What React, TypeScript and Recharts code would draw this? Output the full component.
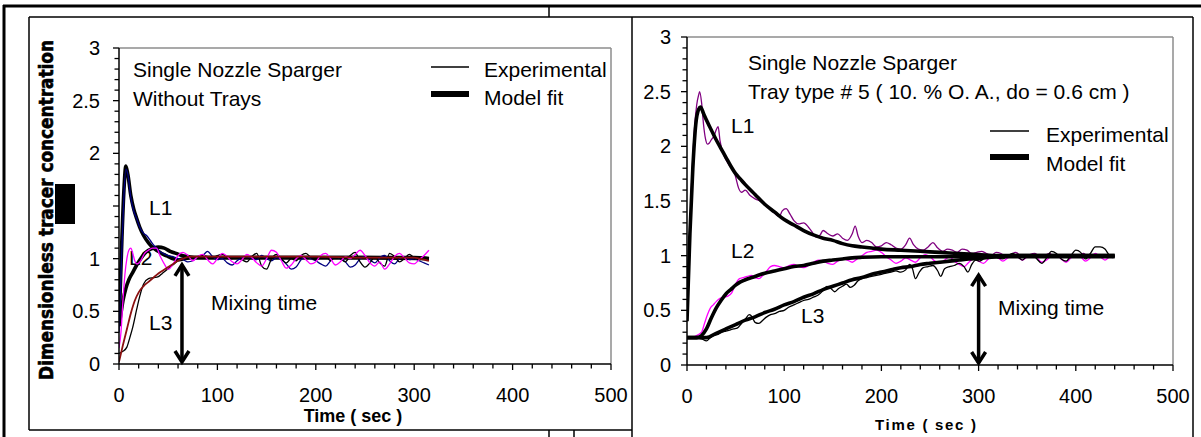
import React from 'react';
import { LineChart, Line, XAxis, YAxis, ReferenceLine } from 'recharts';

type P = [number, number];

// ---------- axis ticks ----------
const xTicks = [0, 20, 40, 60, 80, 100, 120, 140, 160, 180, 200, 220, 240, 260, 280, 300, 320, 340, 360, 380, 400, 420, 440, 460, 480, 500];
const xLabelled = [0, 100, 200, 300, 400, 500];
const yTicks = [0, 0.1, 0.2, 0.3, 0.4, 0.5, 0.6, 0.7, 0.8, 0.9, 1, 1.1, 1.2, 1.3, 1.4, 1.5, 1.6, 1.7, 1.8, 1.9, 2, 2.1, 2.2, 2.3, 2.4, 2.5, 2.6, 2.7, 2.8, 2.9, 3];
const yLabelledLeft = [0, 0.5, 1, 2, 2.5, 3];
const yLabelledRight = [0, 0.5, 1, 1.5, 2, 2.5, 3];
const yMajor = [0, 0.5, 1, 1.5, 2, 2.5, 3];

// ---------- left panel (without trays) ----------
const leftL1Model: P[] = [[0, 0.36], [3, 1.2], [5, 1.65], [7, 1.88], [9, 1.8], [12, 1.6], [15, 1.47], [18, 1.38], [21, 1.3], [25, 1.22], [30, 1.15], [35, 1.1], [40, 1.07], [45, 1.04], [50, 1.02], [55, 1.0], [60, 0.99], [66, 1.0], [75, 1.01], [100, 1.01], [150, 1.01], [200, 1.01], [250, 1.01], [300, 1.01], [315, 1.0]];
const leftL2Model: P[] = [[0, 0.36], [2, 0.48], [4, 0.6], [7, 0.72], [10, 0.8], [14, 0.87], [18, 0.94], [22, 1.0], [26, 1.05], [30, 1.08], [35, 1.1], [40, 1.11], [46, 1.1], [52, 1.07], [58, 1.05], [64, 1.03], [70, 1.02], [80, 1.01], [150, 1.01], [250, 1.01], [315, 1.0]];
const leftL3Model: P[] = [[0, 0.02], [4, 0.18], [8, 0.33], [12, 0.48], [16, 0.6], [20, 0.68], [25, 0.74], [30, 0.78], [35, 0.82], [40, 0.86], [45, 0.89], [50, 0.92], [55, 0.95], [60, 0.98], [65, 1.0], [72, 1.02], [100, 1.02], [150, 1.02], [200, 1.02], [250, 1.01], [300, 1.01], [305, 1.0], [310, 0.99], [315, 0.98]];
const leftL1Exp: P[] = [[0, 0.3], [3, 1.1], [5, 1.6], [7, 1.85], [9, 1.8], [12, 1.58], [15, 1.45], [18, 1.38], [21, 1.3], [25, 1.24], [28, 1.22], [32, 1.17], [36, 1.12], [40, 1.08], [45, 1.05], [50, 1.03], [55, 1.02], [60, 1.0], [65, 0.99], [70, 0.97], [75, 0.98], [80, 1.02], [85, 1.03], [90, 1.07], [95, 1.02], [100, 0.99], [105, 1.0], [110, 0.96], [115, 0.94], [120, 0.98], [125, 1.01], [130, 1.02], [135, 1.0], [140, 0.99], [145, 1.03], [150, 1.0], [155, 0.98], [160, 1.01], [165, 0.99], [170, 0.95], [175, 0.9], [180, 0.92], [185, 0.99], [190, 1.02], [195, 1.0], [200, 0.98], [205, 0.95], [210, 0.93], [215, 0.98], [220, 1.02], [225, 1.0], [230, 0.97], [235, 0.92], [240, 0.94], [245, 1.0], [250, 1.02], [255, 0.99], [260, 0.96], [265, 1.01], [270, 1.03], [275, 0.98], [280, 0.95], [285, 1.0], [290, 1.02], [295, 0.99], [300, 1.0], [305, 0.98], [310, 0.96], [315, 0.94]];
const leftL2Exp: P[] = [[0, 0.15], [2, 0.3], [4, 0.6], [6, 0.85], [8, 1.0], [10, 1.08], [12, 1.1], [14, 1.05], [16, 0.98], [18, 0.95], [22, 0.98], [26, 1.05], [30, 1.08], [34, 1.1], [38, 1.1], [42, 1.02], [46, 0.95], [50, 0.9], [55, 0.95], [60, 1.03], [65, 1.06], [70, 1.03], [75, 0.98], [80, 1.02], [85, 1.04], [90, 0.99], [95, 0.95], [100, 1.0], [105, 1.05], [110, 1.02], [115, 0.97], [120, 0.95], [125, 0.99], [130, 1.04], [135, 1.01], [140, 0.96], [145, 0.93], [150, 1.0], [155, 1.08], [160, 1.06], [165, 0.98], [170, 0.91], [175, 0.94], [180, 1.0], [185, 1.03], [190, 0.99], [195, 0.95], [200, 0.97], [205, 1.03], [210, 1.05], [215, 1.0], [220, 0.94], [225, 0.97], [230, 1.02], [235, 1.0], [240, 1.04], [245, 1.08], [250, 1.03], [255, 0.96], [260, 0.93], [265, 0.97], [270, 0.9], [275, 0.95], [280, 1.02], [285, 1.05], [290, 1.01], [295, 0.96], [300, 0.95], [305, 0.99], [310, 1.03], [315, 1.08]];
const leftL3Exp: P[] = [[0, 0.1], [4, 0.12], [8, 0.16], [11, 0.25], [14, 0.35], [18, 0.52], [21, 0.64], [25, 0.76], [30, 0.81], [35, 0.82], [40, 0.83], [44, 0.86], [48, 0.89], [52, 0.92], [56, 0.95], [60, 0.98], [65, 1.0], [70, 1.01], [75, 1.0], [80, 1.02], [85, 1.03], [90, 1.02], [95, 1.01], [100, 1.03], [105, 1.04], [110, 1.02], [115, 1.0], [120, 1.02], [125, 0.99], [130, 0.97], [135, 1.02], [140, 1.05], [145, 0.93], [150, 0.9], [155, 1.0], [160, 1.04], [165, 1.0], [170, 0.96], [175, 1.0], [180, 0.98], [185, 1.03], [190, 1.05], [195, 1.01], [200, 0.99], [205, 1.01], [210, 1.02], [215, 0.98], [220, 1.02], [225, 1.0], [230, 0.97], [235, 1.03], [240, 1.06], [245, 0.97], [250, 0.92], [255, 0.96], [260, 1.02], [265, 0.96], [270, 0.93], [275, 1.05], [280, 1.02], [285, 0.97], [290, 1.0], [295, 1.04], [300, 1.01], [305, 0.99], [310, 1.0], [315, 1.0]];
const leftMixing: P[] = [[64, 0], [64, 0.96]];

// ---------- right panel (tray type # 5) ----------
const rightL1Exp: P[] = [[0, 0.4], [2, 0.9], [4, 1.5], [6, 1.9], [8, 2.2], [10, 2.38], [12, 2.47], [13, 2.5], [15, 2.4], [17, 2.2], [19, 2.07], [21, 2.02], [23, 2.03], [25, 2.06], [28, 2.1], [30, 2.15], [32, 2.18], [34, 2.05], [37, 1.94], [40, 1.88], [44, 1.82], [48, 1.78], [50, 1.72], [53, 1.62], [56, 1.58], [60, 1.6], [65, 1.55], [70, 1.52], [75, 1.5], [80, 1.47], [85, 1.43], [90, 1.39], [95, 1.36], [98, 1.41], [102, 1.43], [106, 1.38], [110, 1.32], [115, 1.29], [120, 1.3], [125, 1.26], [130, 1.2], [133, 1.17], [137, 1.19], [140, 1.23], [145, 1.2], [150, 1.18], [155, 1.2], [160, 1.16], [165, 1.14], [170, 1.2], [173, 1.27], [176, 1.18], [180, 1.12], [185, 1.14], [190, 1.12], [195, 1.08], [200, 1.09], [205, 1.12], [210, 1.1], [215, 1.07], [220, 1.06], [225, 1.1], [229, 1.16], [233, 1.1], [238, 1.06], [243, 1.05], [248, 1.08], [253, 1.12], [258, 1.07], [263, 1.04], [268, 1.06], [273, 1.05], [278, 1.03], [283, 1.06], [288, 1.05], [293, 1.02], [298, 1.03], [303, 1.04], [308, 1.02], [313, 1.0], [318, 1.03], [323, 1.02], [328, 0.99], [333, 1.01], [338, 1.03], [343, 1.0], [348, 0.98], [353, 1.01], [358, 1.02], [363, 0.99], [368, 1.0], [373, 1.02], [378, 0.99], [383, 1.01], [388, 1.0], [393, 0.98], [398, 1.01], [403, 1.0], [408, 1.02], [413, 0.99], [418, 1.0], [423, 1.01], [428, 0.99], [433, 1.0], [438, 0.98]];
const rightL2Exp: P[] = [[0, 0.26], [5, 0.25], [10, 0.27], [15, 0.3], [18, 0.38], [21, 0.46], [24, 0.52], [27, 0.55], [30, 0.58], [34, 0.61], [38, 0.62], [42, 0.63], [46, 0.66], [50, 0.74], [54, 0.79], [58, 0.8], [62, 0.81], [66, 0.82], [70, 0.8], [74, 0.79], [78, 0.82], [82, 0.86], [86, 0.9], [90, 0.91], [95, 0.9], [100, 0.89], [105, 0.91], [110, 0.92], [115, 0.9], [120, 0.89], [125, 0.91], [130, 0.94], [135, 0.96], [140, 0.95], [145, 0.93], [150, 0.92], [155, 0.95], [160, 0.97], [165, 0.96], [170, 0.94], [175, 0.97], [180, 1.0], [185, 1.03], [190, 1.04], [195, 1.05], [200, 1.03], [205, 0.99], [210, 0.96], [215, 0.93], [220, 0.95], [225, 0.98], [230, 0.96], [235, 0.94], [240, 0.98], [245, 1.01], [250, 0.99], [255, 0.95], [260, 0.93], [265, 0.96], [270, 0.99], [275, 0.95], [280, 0.92], [285, 0.9], [290, 0.94], [295, 0.97], [300, 0.95], [305, 0.93], [310, 0.97], [315, 1.0], [320, 0.98], [325, 0.95], [330, 0.98], [335, 1.0], [340, 0.99], [345, 0.96], [350, 0.99], [355, 1.01], [360, 0.98], [365, 0.94], [370, 0.96], [375, 1.0], [380, 1.01], [385, 0.97], [390, 0.94], [395, 0.98], [400, 1.01], [405, 0.99], [410, 0.95], [415, 0.98], [420, 1.02], [425, 0.99], [430, 0.96], [435, 0.99], [440, 1.0]];
const rightL3Exp: P[] = [[0, 0.25], [5, 0.26], [10, 0.25], [15, 0.24], [20, 0.22], [24, 0.25], [28, 0.27], [32, 0.28], [36, 0.3], [40, 0.31], [44, 0.32], [48, 0.33], [52, 0.34], [56, 0.38], [60, 0.42], [64, 0.46], [67, 0.44], [70, 0.39], [74, 0.38], [78, 0.41], [82, 0.44], [86, 0.46], [90, 0.47], [95, 0.49], [100, 0.5], [105, 0.53], [110, 0.55], [115, 0.57], [120, 0.59], [125, 0.6], [130, 0.62], [135, 0.64], [140, 0.68], [144, 0.72], [148, 0.7], [152, 0.67], [156, 0.7], [160, 0.72], [164, 0.74], [168, 0.71], [172, 0.73], [176, 0.77], [180, 0.79], [185, 0.8], [190, 0.81], [195, 0.82], [200, 0.83], [205, 0.84], [210, 0.85], [215, 0.86], [220, 0.85], [225, 0.87], [229, 0.92], [232, 0.88], [235, 0.79], [239, 0.85], [243, 0.89], [248, 0.9], [253, 0.91], [258, 0.86], [261, 0.81], [265, 0.88], [270, 0.9], [275, 0.91], [280, 0.93], [285, 0.9], [289, 0.85], [293, 0.92], [297, 0.96], [301, 0.95], [305, 0.97], [310, 0.99], [315, 1.0], [320, 0.98], [325, 0.97], [330, 1.0], [335, 1.02], [340, 0.99], [345, 0.96], [350, 1.0], [355, 1.01], [360, 0.97], [365, 0.93], [370, 0.98], [375, 1.04], [380, 1.02], [385, 0.97], [390, 0.95], [395, 1.0], [400, 1.05], [405, 1.03], [410, 0.97], [415, 1.02], [420, 1.08], [425, 1.08], [430, 1.06], [435, 1.0], [440, 0.99]];
const rightL1Model: P[] = [[0, 0.4], [3, 1.2], [6, 1.8], [9, 2.2], [12, 2.34], [14, 2.36], [17, 2.3], [20, 2.24], [25, 2.15], [30, 2.06], [35, 1.98], [40, 1.9], [45, 1.82], [50, 1.75], [55, 1.7], [60, 1.65], [70, 1.56], [80, 1.47], [90, 1.4], [100, 1.33], [110, 1.28], [120, 1.23], [130, 1.19], [140, 1.16], [150, 1.14], [160, 1.11], [170, 1.09], [180, 1.08], [190, 1.07], [200, 1.06], [220, 1.05], [240, 1.04], [260, 1.03], [280, 1.02], [300, 1.01], [320, 1.0], [440, 1.0]];
const rightL2Model: P[] = [[0, 0.25], [10, 0.25], [15, 0.27], [20, 0.33], [25, 0.43], [30, 0.52], [35, 0.59], [40, 0.65], [45, 0.69], [50, 0.73], [55, 0.76], [60, 0.78], [70, 0.81], [80, 0.84], [90, 0.86], [100, 0.88], [110, 0.9], [120, 0.91], [130, 0.93], [140, 0.95], [150, 0.96], [160, 0.97], [170, 0.98], [180, 0.985], [200, 0.99], [300, 0.99], [440, 0.99]];
const rightL3Model: P[] = [[0, 0.25], [10, 0.25], [20, 0.25], [30, 0.29], [40, 0.33], [50, 0.37], [60, 0.41], [70, 0.44], [80, 0.48], [90, 0.51], [100, 0.55], [110, 0.58], [120, 0.62], [130, 0.65], [140, 0.69], [150, 0.72], [160, 0.75], [170, 0.78], [180, 0.8], [190, 0.83], [200, 0.85], [210, 0.87], [220, 0.89], [230, 0.9], [240, 0.92], [250, 0.93], [260, 0.94], [270, 0.95], [280, 0.96], [290, 0.97], [300, 0.975], [320, 0.99], [340, 1.0], [440, 1.0]];
const rightMixing: P[] = [[300, 0], [300, 0.84]];

// ---------- helpers ----------
const FONT = '"Liberation Sans", Arial, Helvetica, sans-serif';
const TICK_FONT = 20;
const toObj = (pts: P[]) => pts.map(([t, v]) => ({ t, v }));
const seg = (pts: P[]) => pts.map(([t, v]) => ({ x: t, y: v }));
const isIn = (list: number[], v: number) => list.some((u) => Math.abs(u - v) < 1e-6);

const makeXTick = () => (p: any) => {
  const { x, y, payload } = p;
  const v = payload.value as number;
  const major = isIn(xLabelled, v);
  return (
    <g>
      <line x1={x} y1={y} x2={x} y2={y + (major ? 6 : 4.5)} stroke="#000" strokeWidth={1.3} />
      {major && (
        <text x={x} y={y + 38} textAnchor="middle" fontFamily={FONT} fontSize={TICK_FONT} fill="#000">{v}</text>
      )}
    </g>
  );
};

const makeYTick = (labelled: number[], gap: number) => (p: any) => {
  const { x, y, payload } = p;
  const v = payload.value as number;
  const major = isIn(yMajor, v);
  return (
    <g>
      <line x1={x - (major ? 6 : 4.5)} y1={y} x2={x} y2={y} stroke="#000" strokeWidth={1.3} />
      {isIn(labelled, v) && (
        <text x={x - gap} y={y + 7} textAnchor="end" fontFamily={FONT} fontSize={TICK_FONT} fill="#000">{String(v)}</text>
      )}
    </g>
  );
};

const DoubleArrow = (props: any) => {
  const { x1, y1, x2, y2 } = props;
  const x = (x1 + x2) / 2;
  const top = Math.min(y1, y2);
  const bot = Math.max(y1, y2);
  return (
    <g stroke="#000" strokeWidth={3.5} fill="none">
      <line x1={x} y1={top + 2} x2={x} y2={bot - 2} />
      <path d={`M${x - 7},${top + 13} L${x},${top + 2} L${x + 7},${top + 13}`} />
      <path d={`M${x - 7},${bot - 13} L${x},${bot - 2} L${x + 7},${bot - 13}`} />
    </g>
  );
};

type SeriesDef = { pts: P[]; color: string; width: number };

function Panel(props: {
  left: number; width: number; margin: { top: number; right: number; bottom: number; left: number };
  series: SeriesDef[]; mixing: P[]; yLabelled: number[]; yGap: number;
}) {
  const { left, width, margin, series, mixing, yLabelled, yGap } = props;
  return (
    <div style={{ position: 'absolute', left, top: 0 }}>
      <LineChart width={width} height={437} margin={margin}>
        <XAxis xAxisId="main" type="number" dataKey="t" domain={[0, 500]} ticks={xTicks} interval={0}
          tick={makeXTick()} tickLine={false} tickSize={0} tickMargin={0} height={40}
          stroke="#000" strokeWidth={1.5} allowDataOverflow />
        <YAxis yAxisId="main" type="number" domain={[0, 3]} ticks={yTicks} interval={0}
          tick={makeYTick(yLabelled, yGap)} tickLine={false} tickSize={0} tickMargin={0} width={50}
          stroke="#000" strokeWidth={1.5} allowDataOverflow />
        <ReferenceLine xAxisId="main" yAxisId="main" y={3} stroke="#8c8c8c" strokeWidth={1.5} />
        <ReferenceLine xAxisId="main" yAxisId="main" x={500} stroke="#8c8c8c" strokeWidth={1.5} />
        {series.map((s, i) => (
          <Line key={i} xAxisId="main" yAxisId="main" data={toObj(s.pts)} dataKey="v" type="monotone"
            stroke={s.color} strokeWidth={s.width} dot={false} activeDot={false} isAnimationActive={false} />
        ))}
        <ReferenceLine xAxisId="main" yAxisId="main" segment={seg(mixing)} shape={DoubleArrow} ifOverflow="visible" />
      </LineChart>
    </div>
  );
}

const THICK = 3.6;
const THIN = 1.3;

const leftSeries: SeriesDef[] = [
  { pts: leftL1Model, color: '#000', width: THICK },
  { pts: leftL2Model, color: '#000', width: THICK },
  { pts: leftL1Exp, color: '#000080', width: THIN },
  { pts: leftL3Exp, color: '#000', width: THIN },
  { pts: leftL2Exp, color: '#ff00ff', width: THIN },
  { pts: leftL3Model, color: '#8b1010', width: 1.8 },
];

const rightSeries: SeriesDef[] = [
  { pts: rightL1Exp, color: '#800080', width: THIN },
  { pts: rightL2Exp, color: '#ff00ff', width: THIN },
  { pts: rightL3Exp, color: '#000', width: THIN },
  { pts: rightL1Model, color: '#000', width: THICK },
  { pts: rightL2Model, color: '#000', width: THICK },
  { pts: rightL3Model, color: '#000', width: THICK },
];

export default function App() {
  const txt = { fontFamily: FONT, fontSize: 21, fill: '#000' } as const;
  return (
    <div style={{ position: 'absolute', left: 0, top: 0, width: 1201, height: 437, background: '#fff', overflow: 'hidden' }}>
      <svg width={1201} height={437} style={{ position: 'absolute', left: 0, top: 0 }}>
        {/* document frame lines */}
        <line x1={3} y1={6} x2={1201} y2={6} stroke="#000" strokeWidth={3} />
        <line x1={4} y1={5} x2={4} y2={437} stroke="#000" strokeWidth={3} />
        <line x1={549} y1={6} x2={549} y2={17} stroke="#000" strokeWidth={1.5} />
        <line x1={549} y1={430} x2={549} y2={437} stroke="#000" strokeWidth={1.5} />
        <line x1={574} y1={430} x2={574} y2={437} stroke="#000" strokeWidth={1.5} />
        <line x1={29} y1={17} x2={1193} y2={17} stroke="#000" strokeWidth={1.5} />
        <line x1={29} y1={17} x2={29} y2={430} stroke="#000" strokeWidth={1.5} />
        <line x1={29} y1={430} x2={632} y2={430} stroke="#000" strokeWidth={1.5} />
        <line x1={632} y1={17} x2={632} y2={437} stroke="#000" strokeWidth={1.5} />
        <line x1={1193} y1={17} x2={1193} y2={437} stroke="#000" strokeWidth={1.5} />

        {/* left y label */}
        <text transform="translate(53,210) rotate(-90)" textAnchor="middle" fontFamily='"DejaVu Sans", sans-serif'
          fontWeight={900} fontSize={19} textLength={340} lengthAdjust="spacingAndGlyphs" fill="#000"
          stroke="#000" strokeWidth={0.6}>
          Dimensionless tracer concentration
        </text>

        {/* left annotations */}
        <text x={133} y={76.5} {...txt}>Single Nozzle Sparger</text>
        <text x={133} y={105.5} {...txt}>Without Trays</text>
        <line x1={431} y1={67} x2={469} y2={67} stroke="#000" strokeWidth={1.5} />
        <text x={484} y={77} {...txt}>Experimental</text>
        <line x1={431} y1={94} x2={469} y2={94} stroke="#000" strokeWidth={6} />
        <text x={484} y={105} {...txt}>Model fit</text>
        <text x={149} y={214.5} {...txt}>L1</text>
        <text x={129} y={264.5} {...txt}>L2</text>
        <text x={149} y={329.5} {...txt}>L3</text>
        <text x={211} y={309.5} {...txt}>Mixing time</text>
        <text x={353} y={422} textAnchor="middle" fontFamily={FONT} fontWeight={700} fontSize={18}>Time ( sec )</text>

        {/* right annotations */}
        <text x={748} y={69.5} {...txt}>Single Nozzle Sparger</text>
        <text x={748} y={98.5} {...txt}>Tray type # 5 ( 10. % O. A., do = 0.6 cm )</text>
        <line x1={990} y1={131} x2={1029} y2={131} stroke="#000" strokeWidth={1.5} />
        <text x={1046} y={142} {...txt}>Experimental</text>
        <line x1={990} y1={157} x2={1029} y2={157} stroke="#000" strokeWidth={6} />
        <text x={1046} y={171} {...txt}>Model fit</text>
        <text x={731} y={132.5} {...txt}>L1</text>
        <text x={731} y={257.5} {...txt}>L2</text>
        <text x={801} y={322.5} {...txt}>L3</text>
        <text x={998} y={314.5} {...txt}>Mixing time</text>
        <text x={875} y={430} fontFamily={FONT} fontWeight={700} fontSize={15} textLength={101} lengthAdjust="spacing">Time ( sec )</text>
      </svg>

      <Panel left={0} width={640} margin={{ top: 48, right: 29, bottom: 33, left: 69 }}
        series={leftSeries} mixing={leftMixing} yLabelled={yLabelledLeft} yGap={19} />
      <Panel left={632} width={569} margin={{ top: 37, right: 28, bottom: 32, left: 5 }}
        series={rightSeries} mixing={rightMixing} yLabelled={yLabelledRight} yGap={16} />

      <svg width={1201} height={437} style={{ position: 'absolute', left: 0, top: 0, pointerEvents: 'none' }}>
        <rect x={55} y={184} width={20} height={40} fill="#000" />
      </svg>
    </div>
  );
}
